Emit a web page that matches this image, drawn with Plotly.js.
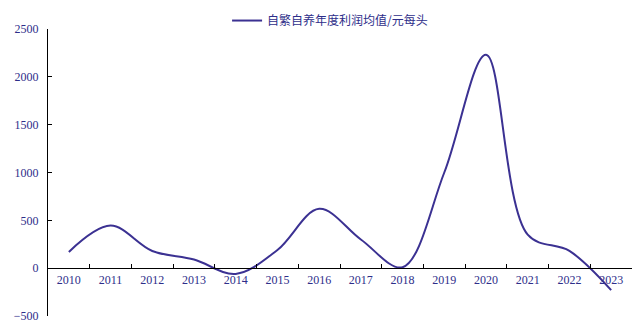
<!DOCTYPE html>
<html>
<head>
<meta charset="utf-8">
<script src="https://cdn.plot.ly/plotly-3.0.1.min.js"></script>
<style>html,body{margin:0;padding:0;background:#fff;}#chart{width:638px;height:325px;}</style>
</head>
<body>
<div id="chart"></div>
<script>
const years = ["2010","2011","2012","2013","2014","2015","2016","2017","2018","2019","2020","2021","2022","2023"];
const profit = [170, 445, 180, 90, -60, 190, 620, 300, 10, 1000, 2230, 350, 180, -230];
const seriesName = "自繁自养年度利润均值/元每头";
const yTicks = [-500, 0, 500, 1000, 1500, 2000, 2500];
const yMin = -500, yMax = 2500;

const lineColor = "#3B3192";
const textColor = "#2E2E8A";

const trace = {
  x: years,
  y: profit,
  type: "scatter",
  mode: "lines",
  name: seriesName,
  line: {color: lineColor, width: 2, shape: "spline", smoothing: 1},
  showlegend: true
};

const layout = {
  width: 638, height: 325,
  margin: {l: 48, r: 6, t: 27, b: 9, pad: 0},
  paper_bgcolor: "#fff", plot_bgcolor: "#fff",
  showlegend: true,
  legend: {
    orientation: "h", x: 0.483, xanchor: "center", y: 1.08, yanchor: "top",
    font: {family: "Noto Sans CJK SC", size: 12, color: textColor},
    bgcolor: "rgba(0,0,0,0)"
  },
  xaxis: {
    type: "category",
    range: [-0.5, years.length - 0.5],
    anchor: "free",
    position: (0 - yMin) / (yMax - yMin),
    showline: true, linecolor: "#000", linewidth: 1,
    ticks: "inside", tickson: "boundaries", ticklen: 4, tickcolor: "#000", tickwidth: 1,
    showgrid: false, zeroline: false,
    tickfont: {family: "Liberation Serif", size: 12, color: textColor},
    fixedrange: true
  },
  yaxis: {
    range: [yMin, yMax],
    tickvals: yTicks,
    ticktext: yTicks.map(v => v < 0 ? "\u2212" + Math.abs(v) : String(v)),
    showline: true, linecolor: "#000", linewidth: 1,
    ticks: "inside", ticklen: 4, tickcolor: "#000", tickwidth: 1,
    showgrid: false, zeroline: false,
    tickfont: {family: "Liberation Serif", size: 12, color: textColor},
    ticklabelstandoff: 6,
    fixedrange: true
  }
};

Plotly.newPlot("chart", [trace], layout, {displayModeBar: false, staticPlot: true});
</script>
</body>
</html>
